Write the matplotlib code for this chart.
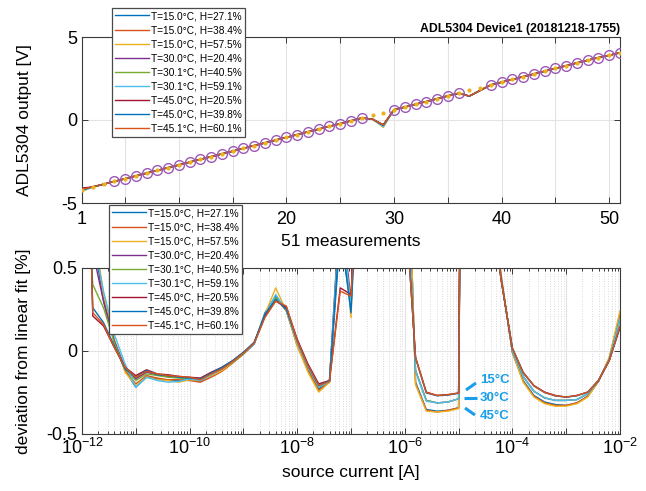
import math
import matplotlib
matplotlib.use('Agg')
import matplotlib.pyplot as plt
from matplotlib.ticker import FixedLocator, FuncFormatter, NullFormatter

plt.rcParams['font.family'] = ['Liberation Sans', 'DejaVu Sans']
plt.rcParams['axes.unicode_minus'] = False
plt.rcParams['mathtext.fontset'] = 'custom'
plt.rcParams['mathtext.rm'] = 'Liberation Sans'
plt.rcParams['mathtext.it'] = 'Liberation Sans:italic'
plt.rcParams['mathtext.bf'] = 'Liberation Sans:bold'
plt.rcParams['mathtext.default'] = 'regular'

# ---------------- data ----------------
series_labels = ['T=15.0°C, H=27.1%', 'T=15.0°C, H=38.4%', 'T=15.0°C, H=57.5%',
                 'T=30.0°C, H=20.4%', 'T=30.1°C, H=40.5%', 'T=30.1°C, H=59.1%',
                 'T=45.0°C, H=20.5%', 'T=45.0°C, H=39.8%', 'T=45.1°C, H=60.1%']
series_colors = ['#0072BD', '#D95319', '#EDB120', '#7E2F8E', '#77AC30',
                 '#4DBEEE', '#A2142F', '#0072BD', '#D95319']

measurement = list(range(1, 52))

# measured output (common trace) [V]
output_v = [-4.20, -4.03, -3.87, -3.70, -3.54, -3.37, -3.20, -3.04, -2.87, -2.71,
            -2.54, -2.37, -2.21, -2.04, -1.88, -1.71, -1.54, -1.38, -1.21, -1.05,
            -0.88, -0.71, -0.55, -0.38, -0.22, -0.05, 0.12, 0.05, -0.32, 0.62,
            0.78, 0.95, 1.11, 1.28, 1.45, 1.61, 1.44, 1.78, 2.11, 2.28,
            2.44, 2.61, 2.77, 2.94, 3.11, 3.27, 3.44, 3.60, 3.76, 3.90, 4.05]
# per-series values at measurement 1 and 29
start_v = [-4.25, -4.20, -4.30, -4.20, -4.15, -4.28, -4.10, -4.22, -4.18]
dip29_v = [-0.30, -0.35, -0.45, -0.32, -0.34, -0.40, -0.28, -0.33, -0.30]

# reference (dots) [V]
ref_v = [-4.20, -4.03, -3.87, -3.70, -3.54, -3.37, -3.20, -3.04, -2.87, -2.71,
         -2.54, -2.37, -2.21, -2.04, -1.88, -1.71, -1.54, -1.38, -1.21, -1.05,
         -0.88, -0.71, -0.55, -0.38, -0.22, -0.05, 0.12, 0.28, 0.45, 0.62,
         0.78, 0.95, 1.11, 1.28, 1.45, 1.61, 1.78, 1.94, 2.11, 2.28,
         2.44, 2.61, 2.77, 2.94, 3.11, 3.27, 3.44, 3.60, 3.76, 3.90, 4.05]
excluded_points = [1, 2, 3, 28, 29, 37, 38]

# source current exponents (log10 A)
current_exp = [-12.0, -11.8, -11.6, -11.4, -11.2, -11.0, -10.8, -10.6, -10.4, -10.2,
               -10.0, -9.8, -9.6, -9.4, -9.2, -9.0, -8.8, -8.6, -8.4, -8.2,
               -8.0, -7.8, -7.6, -7.4, -7.2, -7.0, -6.8, -6.6, -6.4, -6.2,
               -6.0, -5.8, -5.6, -5.4, -5.2, -5.0, -4.8, -4.6, -4.4, -4.2,
               -4.0, -3.8, -3.6, -3.4, -3.2, -3.0, -2.8, -2.6, -2.4, -2.2, -2.0]

# deviation from linear fit [%]
dev_s1 = [2.0, 0.70, 0.30, 0.05, -0.12, -0.22, -0.16, -0.17, -0.18, -0.18,
          -0.175, -0.185, -0.15, -0.115, -0.07, -0.02, 0.04, 0.23, 0.33, 0.24,
          0.04, -0.11, -0.23, -0.19, 0.70, 0.27, 1.8, 4.0, 5.0, 3.5,
          1.85, -0.19, -0.355, -0.365, -0.36, -0.345, 8.0, 6.0, 0.95, 0.42,
          -0.01, -0.18, -0.27, -0.31, -0.325, -0.33, -0.315, -0.275, -0.185, -0.05, 0.22]
dev_s2 = [2.2, 0.75, 0.32, 0.06, -0.12, -0.20, -0.15, -0.165, -0.175, -0.175,
          -0.18, -0.19, -0.16, -0.125, -0.075, -0.02, 0.045, 0.21, 0.32, 0.24,
          0.03, -0.12, -0.24, -0.19, 0.80, 0.29, 1.7, 4.2, 5.2, 3.6,
          1.9, -0.20, -0.36, -0.37, -0.36, -0.345, 8.0, 6.0, 0.95, 0.43,
          -0.01, -0.185, -0.275, -0.315, -0.33, -0.33, -0.315, -0.275, -0.185, -0.045, 0.225]
dev_s3 = [2.5, 0.80, 0.34, 0.07, -0.13, -0.21, -0.16, -0.175, -0.18, -0.19,
          -0.175, -0.18, -0.15, -0.12, -0.07, -0.015, 0.05, 0.22, 0.38, 0.24,
          0.03, -0.13, -0.25, -0.19, 0.90, 0.20, 1.9, 4.5, 5.5, 3.8,
          1.95, -0.205, -0.365, -0.37, -0.365, -0.35, 8.0, 6.0, 0.95, 0.44,
          -0.01, -0.19, -0.28, -0.32, -0.335, -0.335, -0.32, -0.28, -0.185, -0.04, 0.24]
dev_s4 = [1.8, 0.60, 0.30, 0.06, -0.10, -0.17, -0.13, -0.145, -0.155, -0.16,
          -0.165, -0.17, -0.14, -0.105, -0.065, -0.015, 0.045, 0.21, 0.31, 0.26,
          0.06, -0.09, -0.21, -0.18, 0.90, 0.30, 1.6, 4.0, 5.0, 3.4,
          1.3, -0.12, -0.30, -0.315, -0.31, -0.29, 8.0, 6.0, 0.9, 0.42,
          0.0, -0.155, -0.245, -0.285, -0.30, -0.30, -0.295, -0.26, -0.18, -0.055, 0.19]
dev_s5 = [1.5, 0.40, 0.26, 0.05, -0.11, -0.18, -0.14, -0.15, -0.16, -0.165,
          -0.17, -0.17, -0.14, -0.11, -0.07, -0.02, 0.045, 0.21, 0.32, 0.25,
          0.05, -0.10, -0.22, -0.185, 0.80, 0.28, 1.6, 4.0, 5.0, 3.4,
          1.3, -0.12, -0.30, -0.315, -0.31, -0.29, 8.0, 6.0, 0.9, 0.42,
          0.0, -0.155, -0.245, -0.285, -0.30, -0.30, -0.295, -0.26, -0.18, -0.055, 0.19]
dev_s6 = [2.0, 0.70, 0.36, 0.10, -0.08, -0.22, -0.16, -0.18, -0.19, -0.185,
          -0.17, -0.18, -0.145, -0.11, -0.065, -0.01, 0.04, 0.21, 0.34, 0.245,
          0.05, -0.10, -0.22, -0.185, 0.85, 0.26, 1.6, 4.0, 5.0, 3.4,
          1.35, -0.125, -0.305, -0.315, -0.31, -0.29, 8.0, 6.0, 0.9, 0.42,
          0.0, -0.155, -0.245, -0.285, -0.30, -0.30, -0.295, -0.26, -0.18, -0.055, 0.195]
dev_s7 = [3.0, 0.21, 0.15, 0.02, -0.10, -0.15, -0.115, -0.14, -0.145, -0.155,
          -0.16, -0.165, -0.13, -0.10, -0.06, -0.01, 0.05, 0.21, 0.30, 0.26,
          0.07, -0.08, -0.20, -0.18, 0.38, 0.34, 1.5, 3.8, 4.8, 3.2,
          0.95, -0.04, -0.25, -0.27, -0.265, -0.255, 8.0, 6.0, 0.85, 0.41,
          0.015, -0.13, -0.21, -0.25, -0.27, -0.28, -0.27, -0.25, -0.18, -0.06, 0.14]
dev_s8 = [2.5, 0.26, 0.17, 0.03, -0.11, -0.16, -0.12, -0.145, -0.15, -0.16,
          -0.165, -0.17, -0.135, -0.10, -0.06, -0.01, 0.05, 0.22, 0.31, 0.25,
          0.06, -0.09, -0.21, -0.18, 0.75, 0.23, 1.5, 3.8, 4.8, 3.2,
          0.95, -0.045, -0.255, -0.272, -0.268, -0.257, 8.0, 6.0, 0.85, 0.41,
          0.015, -0.133, -0.213, -0.253, -0.273, -0.28, -0.272, -0.25, -0.18, -0.06, 0.145]
dev_s9 = [2.6, 0.23, 0.16, 0.02, -0.10, -0.16, -0.125, -0.14, -0.15, -0.155,
          -0.16, -0.175, -0.14, -0.11, -0.065, -0.015, 0.045, 0.20, 0.30, 0.27,
          0.06, -0.09, -0.21, -0.185, 0.36, 0.33, 1.5, 3.8, 4.8, 3.2,
          0.95, -0.042, -0.252, -0.27, -0.266, -0.256, 8.0, 6.0, 0.85, 0.41,
          0.015, -0.132, -0.212, -0.252, -0.272, -0.28, -0.27, -0.25, -0.18, -0.06, 0.15]
deviations = [dev_s1, dev_s2, dev_s3, dev_s4, dev_s5, dev_s6, dev_s7, dev_s8, dev_s9]

top_xticks = [1, 5, 10, 15, 20, 25, 30, 35, 40, 45, 50]
top_xticklabels = ['1', '', '10', '', '20', '', '30', '', '40', '', '50']
title_text = 'ADL5304 Device1 (20181218-1755)'

# ---------------- figure ----------------
W, H = 646, 491
fig = plt.figure(figsize=(W / 100, H / 100), dpi=100)

def fx(px):
    return px / W

def fy(py):
    return 1 - py / H

ax1 = fig.add_axes([fx(82), fy(203), fx(620) - fx(82), fy(37) - fy(203)])
ax2 = fig.add_axes([fx(82), fy(433.5), fx(620) - fx(82), fy(268) - fy(433.5)])

edge = '#3a3a3a'
gridc = '#e3e3e3'

# top plot
handles = []
for i in range(9):
    yv = list(output_v)
    yv[0] = start_v[i]
    yv[28] = dip29_v[i]
    h, = ax1.plot(measurement, yv, color=series_colors[i], lw=1.0, label=series_labels[i])
    handles.append(h)
circ_x = [m for m in measurement if m not in excluded_points]
circ_y = [ref_v[m - 1] for m in circ_x]
ax1.plot(circ_x, circ_y, 'o', ms=7, mfc='none', mec='#9B59B6', mew=1.0, zorder=5)
ax1.plot(measurement, ref_v, '.', ms=4, color='#EDB120', zorder=6)

ax1.set_xlim(1, 51)
ax1.set_ylim(-5, 5)
ax1.set_xticks(top_xticks)
ax1.set_xticklabels(top_xticklabels)
ax1.set_yticks([-5, 0, 5])
ax1.grid(True, color=gridc, lw=0.8)
ax1.set_axisbelow(True)
ax1.set_xlabel('51 measurements', fontsize=12.5, labelpad=4)
ax1.set_ylabel('ADL5304 output [V]', fontsize=12.5, labelpad=21)
ax1.text(1.0, 1.012, title_text, transform=ax1.transAxes, ha='right', va='bottom',
         fontsize=8.8, fontweight='bold')

leg_kw = dict(fontsize=7.3, frameon=True, fancybox=False, framealpha=1,
              edgecolor='#4a4a4a', handlelength=3.3, handletextpad=0.25,
              labelspacing=0.4, borderpad=0.3, borderaxespad=0)
leg1 = ax1.legend(handles=handles, loc='upper left',
                  bbox_to_anchor=(fx(112), fy(8)), bbox_transform=fig.transFigure, **leg_kw)
leg1.get_frame().set_linewidth(0.9)
leg1.set_zorder(20)

# bottom plot
currents = [10 ** e for e in current_exp]
handles2 = []
for i in range(9):
    h, = ax2.plot(currents, deviations[i], color=series_colors[i], lw=1.0, label=series_labels[i])
    handles2.append(h)
ax2.set_xscale('log')
ax2.set_xlim(1e-12, 1e-2)
ax2.set_ylim(-0.5, 0.5)
ax2.set_yticks([-0.5, 0, 0.5])
ax2.set_yticklabels(['-0.5', '0', '0.5'])
ax2.xaxis.set_major_locator(FixedLocator([10.0 ** e for e in range(-12, -1)]))

def logfmt(v, p):
    e = int(round(math.log10(v)))
    return (r'$10^{%d}$' % e) if e % 2 == 0 else ''

ax2.xaxis.set_major_formatter(FuncFormatter(logfmt))
minor = [m * 10.0 ** e for e in range(-12, -2) for m in range(2, 10)]
ax2.xaxis.set_minor_locator(FixedLocator(minor))
ax2.xaxis.set_minor_formatter(NullFormatter())
ax2.grid(True, which='major', color=gridc, lw=0.8)
ax2.grid(True, which='minor', axis='x', color='#cfcfcf', lw=0.6, ls=(0, (1, 2)))
ax2.set_axisbelow(True)
ax2.set_xlabel('source current [A]', fontsize=12.5, labelpad=5)
ax2.set_ylabel('deviation from linear fit [%]', fontsize=12.5, labelpad=11)

leg2 = ax2.legend(handles=handles2, loc='upper left',
                  bbox_to_anchor=(fx(109), fy(205)), bbox_transform=fig.transFigure, **leg_kw)
leg2.get_frame().set_linewidth(0.9)
leg2.set_zorder(20)

# temperature annotations
ann_c = '#1A9FE8'
def axfrac(px, py):
    return ((px - 82) / (620 - 82), (433.5 - py) / (433.5 - 268))
for (p0, p1, txt, ty) in [((466, 390), (476, 383), '15°C', 380),
                          ((464, 398), (477, 398), '30°C', 398),
                          ((465, 408), (475, 415), '45°C', 416)]:
    a0 = axfrac(*p0)
    a1 = axfrac(*p1)
    ax2.plot([a0[0], a1[0]], [a0[1], a1[1]], transform=ax2.transAxes, color=ann_c,
             lw=2.2, solid_capstyle='butt', clip_on=False, zorder=8)
    tx = axfrac(480, ty)
    ax2.text(tx[0], tx[1], txt, transform=ax2.transAxes, color=ann_c, fontsize=9.5,
             fontweight='bold', ha='left', va='center', zorder=8)

for ax in (ax1, ax2):
    for s in ax.spines.values():
        s.set_color(edge)
        s.set_linewidth(0.8)
    ax.tick_params(which='both', direction='in', top=True, right=True, color=edge,
                   labelsize=13, width=0.7)
    ax.tick_params(which='major', length=4)
    ax.tick_params(which='minor', length=2)
ax1.tick_params(axis='x', pad=6)

fig.savefig('out.png', dpi=100)
